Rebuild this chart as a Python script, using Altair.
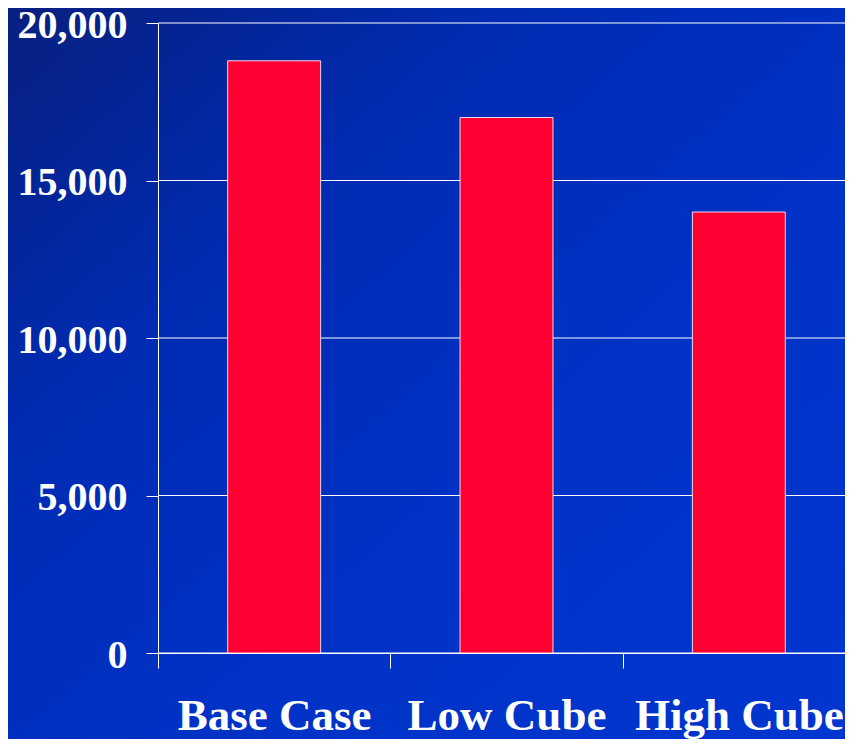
import altair as alt
import pandas as pd

categories = ["Base Case", "Low Cube", "High Cube"]
values = [18800, 17000, 14000]
y_ticks = [0, 5000, 10000, 15000, 20000]

W, H = 687, 630
X_RANGE = 697
STEP = X_RANGE / 3

bars_df = pd.DataFrame({"case": categories, "value": values})
grid_df = pd.DataFrame({"value": y_ticks})

font = "Liberation Serif"

y_axis = alt.Axis(
    title=None,
    values=y_ticks,
    format=",d",
    labelFont=font,
    labelFontWeight="bold",
    labelFontSize=40,
    labelColor="white",
    labelPadding=19,
    labelLimit=400,
    labelOffset=2,
    tickSize=12,
    tickColor="white",
    tickWidth=1,
    domainColor="white",
    domainWidth=1,
    grid=False,
    zindex=1,
)
y_scale = alt.Scale(domain=[0, 20000], nice=False)

bg = alt.Chart(alt.Data(values=[{"a": 1}])).mark_rect(
    fill=alt.Gradient(
        gradient="linear",
        stops=[
            alt.GradientStop(offset=0, color="#081f7e"),
            alt.GradientStop(offset=0.3, color="#002bb2"),
            alt.GradientStop(offset=0.6, color="#0032c6"),
            alt.GradientStop(offset=1, color="#0036d0"),
        ],
        x1=0, y1=0, x2=1, y2=1,
    ),
    strokeWidth=0,
).encode(
    x=alt.value(-160), x2=alt.value(W + 20), y=alt.value(-20), y2=alt.value(H + 110)
)

grid = alt.Chart(grid_df).mark_rule(color="white", strokeWidth=1).encode(
    y=alt.Y("value:Q", scale=y_scale, axis=y_axis)
)

bars = alt.Chart(bars_df).mark_bar(
    color="#FF0033", stroke="white", strokeWidth=1, strokeOpacity=0.85
).encode(
    x=alt.X(
        "case:N",
        sort=categories,
        scale=alt.Scale(paddingInner=0.6, paddingOuter=0.3, range=[0, X_RANGE]),
        axis=alt.Axis(
            title=None,
            labelAngle=0,
            labelFont=font,
            labelFontWeight="bold",
            labelFontSize=45,
            labelColor="white",
            labelPadding=25,
            labelLimit=400,
            labelOffset=STEP / 2,
            tickOffset=-STEP / 2,
            tickSize=15,
            tickColor="white",
            tickWidth=1,
            domainColor="white",
            domainWidth=1,
            grid=False,
            zindex=1,
        ),
    ),
    y=alt.Y("value:Q", scale=y_scale, axis=y_axis),
)

chart = alt.layer(bg, grid, bars).properties(
    width=W,
    height=H,
    autosize=alt.AutoSizeParams(type="none"),
    padding={"left": 150, "top": 15, "right": 0, "bottom": 86},
    background="#0030c0",
).configure_view(stroke=None)

chart.save("out.html", embed_options={"renderer": "svg", "actions": False})
